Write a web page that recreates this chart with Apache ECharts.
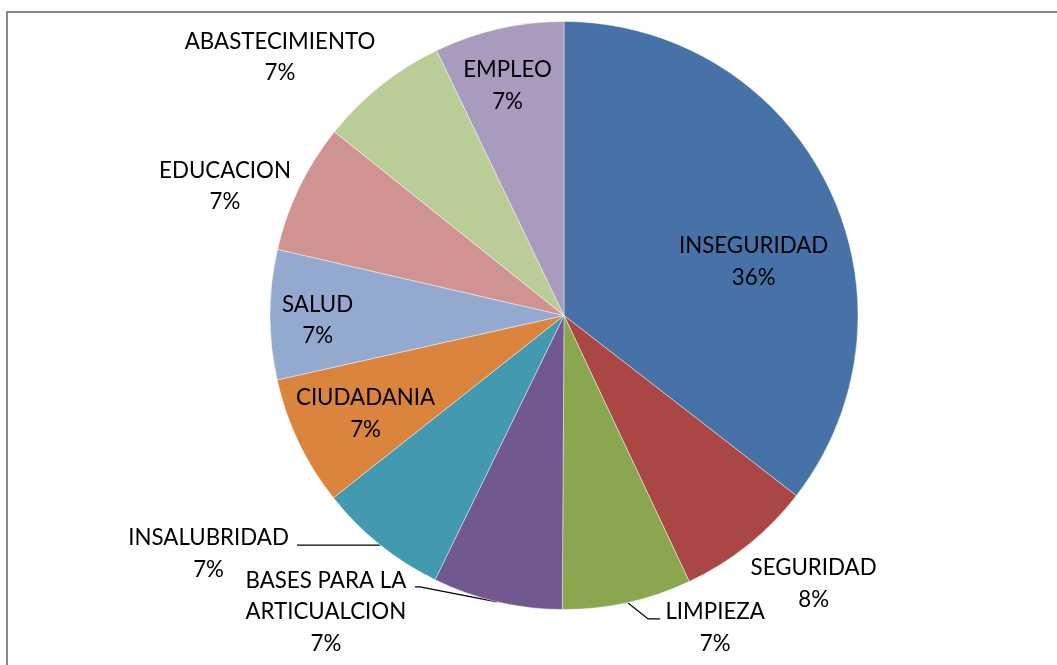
<!DOCTYPE html>
<html><head><meta charset="utf-8">
<script src="https://cdn.jsdelivr.net/npm/echarts@6/dist/echarts.min.js"></script>
<style>
html,body{margin:0;padding:0;background:#fff;overflow:hidden}
#chart{position:absolute;left:0;top:0;width:1057px;height:665px}
</style></head><body>
<div id="chart"></div>
<script>
// ---- data ----
const categories = ['INSEGURIDAD','SEGURIDAD','LIMPIEZA','BASES PARA LA\nARTICUALCION','INSALUBRIDAD','CIUDADANIA','SALUD','EDUCACION','ABASTECIMIENTO','EMPLEO'];
const values = [35.5, 7.5, 7.1, 7.13, 7.13, 7.13, 7.13, 7.13, 7.13, 7.13];
const colors = ['#4672A8','#AA4644','#8AA64F','#71588F','#4299B0','#DB843D','#93A9D0','#D09392','#BACD96','#A99BBD'];

// ---- layout (pie geometry and label placement, normalised by radius) ----
const CX = 564, CY = 315.5, R = 294;
const labelAnchors = [
  [0.645,-0.182],[0.849,0.913],[0.514,1.063],[-0.810,1.009],[-1.209,0.811],
  [-0.675,0.335],[-0.838,0.017],[-1.153,-0.440],[-0.966,-0.878],[-0.192,-0.781]
];
const leaderLines = {
  2: [[0.218,0.978],[0.286,1.032],[0.327,1.032]],
  3: [[-0.228,0.974],[-0.490,0.923],[-0.507,0.923]],
  4: [[-0.626,0.781],[-0.908,0.781]]
};

const chart = echarts.init(document.getElementById('chart'), null, {renderer:'canvas'});
const data = categories.map((c,i)=>({
  name: c, value: values[i],
  itemStyle: {color: colors[i]},
  labelLine: {show: !!leaderLines[i]}
}));
chart.setOption({
  animation: false,
  graphic: [{
    type: 'rect', silent: true, z: -10,
    shape: {x: 7, y: 12, width: 1300, height: 900},
    style: {fill: null, stroke: '#878787', lineWidth: 2}
  }],
  series: [{
    type: 'pie',
    center: [CX, CY],
    radius: R,
    startAngle: 90,
    clockwise: true,
    avoidLabelOverlap: false,
    percentPrecision: 0,
    emphasis: {disabled: true},
    itemStyle: {borderColor: 'rgba(255,255,255,0.7)', borderWidth: 0.6},
    label: {
      show: true, position: 'outside',
      formatter: '{b}\n{d}%',
      color: '#000', fontFamily: 'Lato', fontSize: 22.3, lineHeight: 31.5
    },
    labelLine: {show: false, lineStyle: {color: '#000', width: 1.3}},
    labelLayout: function (p) {
      const i = p.dataIndex, a = labelAnchors[i];
      const o = {x: CX + a[0]*R, y: CY + a[1]*R, align: 'center', verticalAlign: 'middle'};
      if (leaderLines[i]) o.labelLinePoints = leaderLines[i].map(q => [CX + q[0]*R, CY + q[1]*R]);
      return o;
    },
    data: data
  }]
});
</script>
</body></html>
